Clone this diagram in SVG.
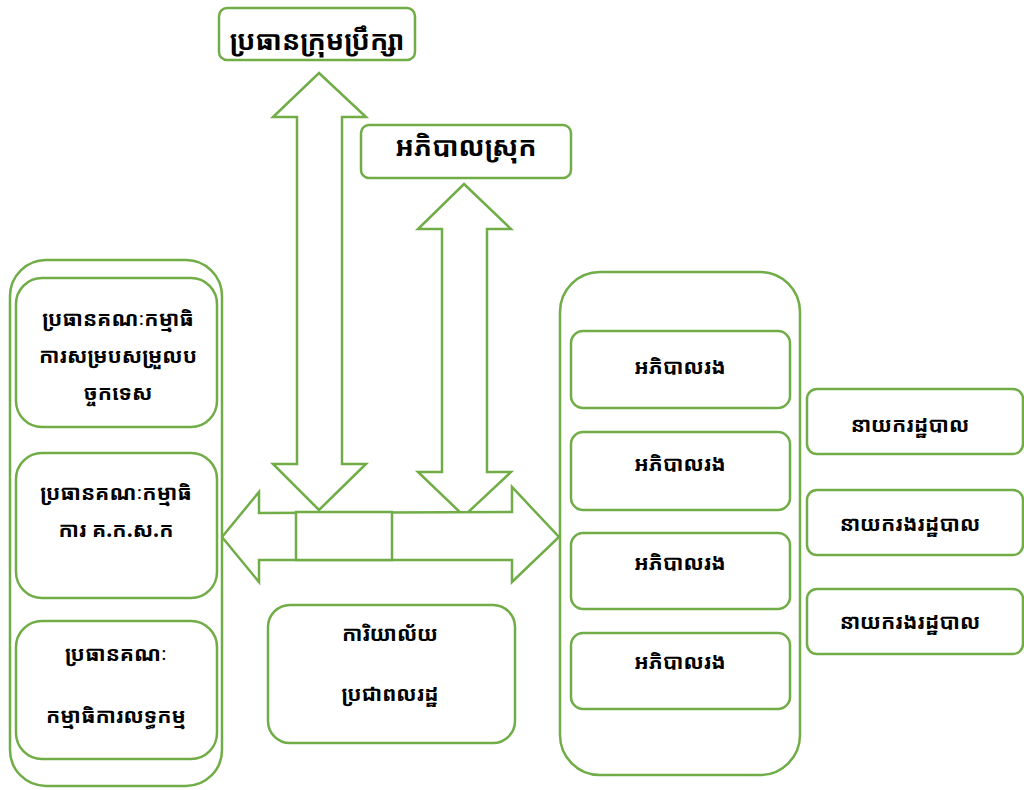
<svg xmlns="http://www.w3.org/2000/svg" width="1024" height="790" viewBox="0 0 1024 790">
<defs>
<style>
.b{fill:#fff;stroke:#70AD47;stroke-width:2.5}
.a{fill:#fff;stroke:#70AD47;stroke-width:2.5;stroke-linejoin:miter}
.t{font-family:"Noto Sans Khmer","Khmer OS","Khmer OS System","Noto Serif Khmer","Hanuman","Leelawadee UI","DejaVu Sans",sans-serif;fill:#000;text-anchor:middle;font-weight:bold}
.l{font-size:27px}
.m{font-size:21px}
</style>
</defs>
<rect width="1024" height="790" fill="#fff"/>
<g id="connectors">
<polygon class="a" points="319,73 366,117 342,117 342,464 366,464 319,510 273,464 297,464 297,117 273,117"/>
<polygon class="a" points="464,184 511,229 487,229 487,472 511,472 464,516 418,472 442,472 442,229 418,229"/>
<polygon class="a" points="222,537 259,492 259,513 512,512 512,487 559,537 512,582 512,560 259,560 259,582"/>
<rect class="a" x="296" y="512" width="96" height="48"/>
</g>
<g id="n-council"><rect class="b" x="219" y="8" width="196" height="52" rx="8"/><text class="t l" x="317" y="50">ប្រធានក្រុមប្រឹក្សា</text></g>
<g id="n-governor"><rect class="b" x="361" y="125" width="210" height="53" rx="8"/><text class="t l" x="466" y="156">អភិបាលស្រុក</text></g>
<g id="n-left"><rect class="b" x="10" y="260" width="212" height="526" rx="36"/></g>
<g id="n-l1"><rect class="b" x="16" y="278" width="201" height="149" rx="26"/><text class="t m" x="118" y="326">ប្រធានគណៈកម្មាធិ</text><text class="t m" x="118" y="363">ការសម្របសម្រួលប</text><text class="t m" x="118" y="400">ច្ចកទេស</text></g>
<g id="n-l2"><rect class="b" x="16" y="453" width="201" height="145" rx="26"/><text class="t m" x="116" y="500">ប្រធានគណៈកម្មាធិ</text><text class="t m" x="116" y="537">ការ គ.ក.ស.ក</text></g>
<g id="n-l3"><rect class="b" x="16" y="621" width="201" height="138" rx="26"/><text class="t m" x="116" y="661">ប្រធានគណៈ</text><text class="t m" x="116" y="723">កម្មាធិការលទ្ធកម្ម</text></g>
<g id="n-office"><rect class="b" x="268" y="605" width="247" height="138" rx="22"/><text class="t m" x="390" y="641">ការិយាល័យ</text><text class="t m" x="390" y="701">ប្រជាពលរដ្ឋ</text></g>
<g id="n-right"><rect class="b" x="560" y="272" width="240" height="503" rx="40"/></g>
<g id="n-r1"><rect class="b" x="571" y="331" width="219" height="77" rx="12"/><text class="t m" x="680" y="374">អភិបាលរង</text></g>
<g id="n-r2"><rect class="b" x="571" y="432" width="219" height="78" rx="12"/><text class="t m" x="680" y="471">អភិបាលរង</text></g>
<g id="n-r3"><rect class="b" x="571" y="533" width="219" height="76" rx="12"/><text class="t m" x="680" y="570">អភិបាលរង</text></g>
<g id="n-r4"><rect class="b" x="571" y="633" width="219" height="76" rx="12"/><text class="t m" x="680" y="669">អភិបាលរង</text></g>
<g id="n-a1"><rect class="b" x="807" y="389" width="216" height="65" rx="10"/><text class="t m" x="910" y="432">នាយករដ្ឋបាល</text></g>
<g id="n-a2"><rect class="b" x="807" y="490" width="216" height="65" rx="10"/><text class="t m" x="910" y="531">នាយករងរដ្ឋបាល</text></g>
<g id="n-a3"><rect class="b" x="807" y="589" width="216" height="65" rx="10"/><text class="t m" x="910" y="629">នាយករងរដ្ឋបាល</text></g>
</svg>
